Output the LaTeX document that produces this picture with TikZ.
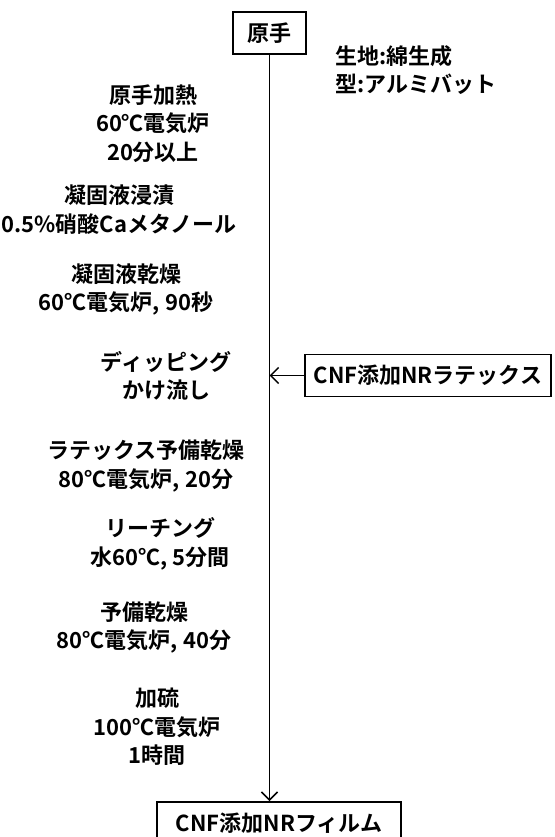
\documentclass[tikz,border=0pt]{standalone}
\usepackage{fontspec}
\setmainfont{Noto Sans CJK JP}[BoldFont=* Bold]
\usetikzlibrary{arrows.meta}
\begin{document}
\begin{tikzpicture}[x=1pt,y=-1pt,
  every node/.style={font=\bfseries\fontsize{22}{28.5}\selectfont, inner sep=0pt},
  box/.style={draw, line width=1.5pt, minimum height=42pt},
  steptext/.style={align=center},
  flow/.style={line width=1.7pt, -{Straight Barb[length=8pt,width=16pt,line width=1.5pt]}}
]
\useasboundingbox (0,0) rectangle (554,837);
\node[box, minimum width=73pt] (raw) at (269.5,33) {原手};
\node[box, minimum width=246pt] (latex) at (428,375.5) {CNF添加NRラテックス};
\node[box, minimum width=244pt, anchor=north] (film) at (279,801) {CNF添加NRフィルム};
\coordinate (end) at (raw.south |- film.north);
\coordinate (join) at (raw.south |- latex.west);
\draw[flow] (raw.south) -- (end);
\draw[flow] (latex.west) -- (join);
\node[align=left, anchor=west] (note) at (335,70) {生地:綿生成\\型:アルミバット};
\node[steptext] (s1) at (153,123.5) {原手加熱\\60℃電気炉\\20分以上};
\node[steptext] (s2) at (119,209.5) {凝固液浸漬\\0.5\%硝酸Caメタノール};
\node[steptext] (s3) at (126,289.5) {凝固液乾燥\\60℃電気炉, 90秒};
\node[steptext] (s4) at (166,376) {ディッピング\\かけ流し};
\node[steptext] (s5) at (146,466) {ラテックス予備乾燥\\80℃電気炉, 20分};
\node[steptext] (s6) at (160,544) {リーチング\\水60℃, 5分間};
\node[steptext] (s7) at (144,627.5) {予備乾燥\\80℃電気炉, 40分};
\node[steptext] (s8) at (157,727) {加硫\\100℃電気炉\\1時間};
\end{tikzpicture}
\end{document}
